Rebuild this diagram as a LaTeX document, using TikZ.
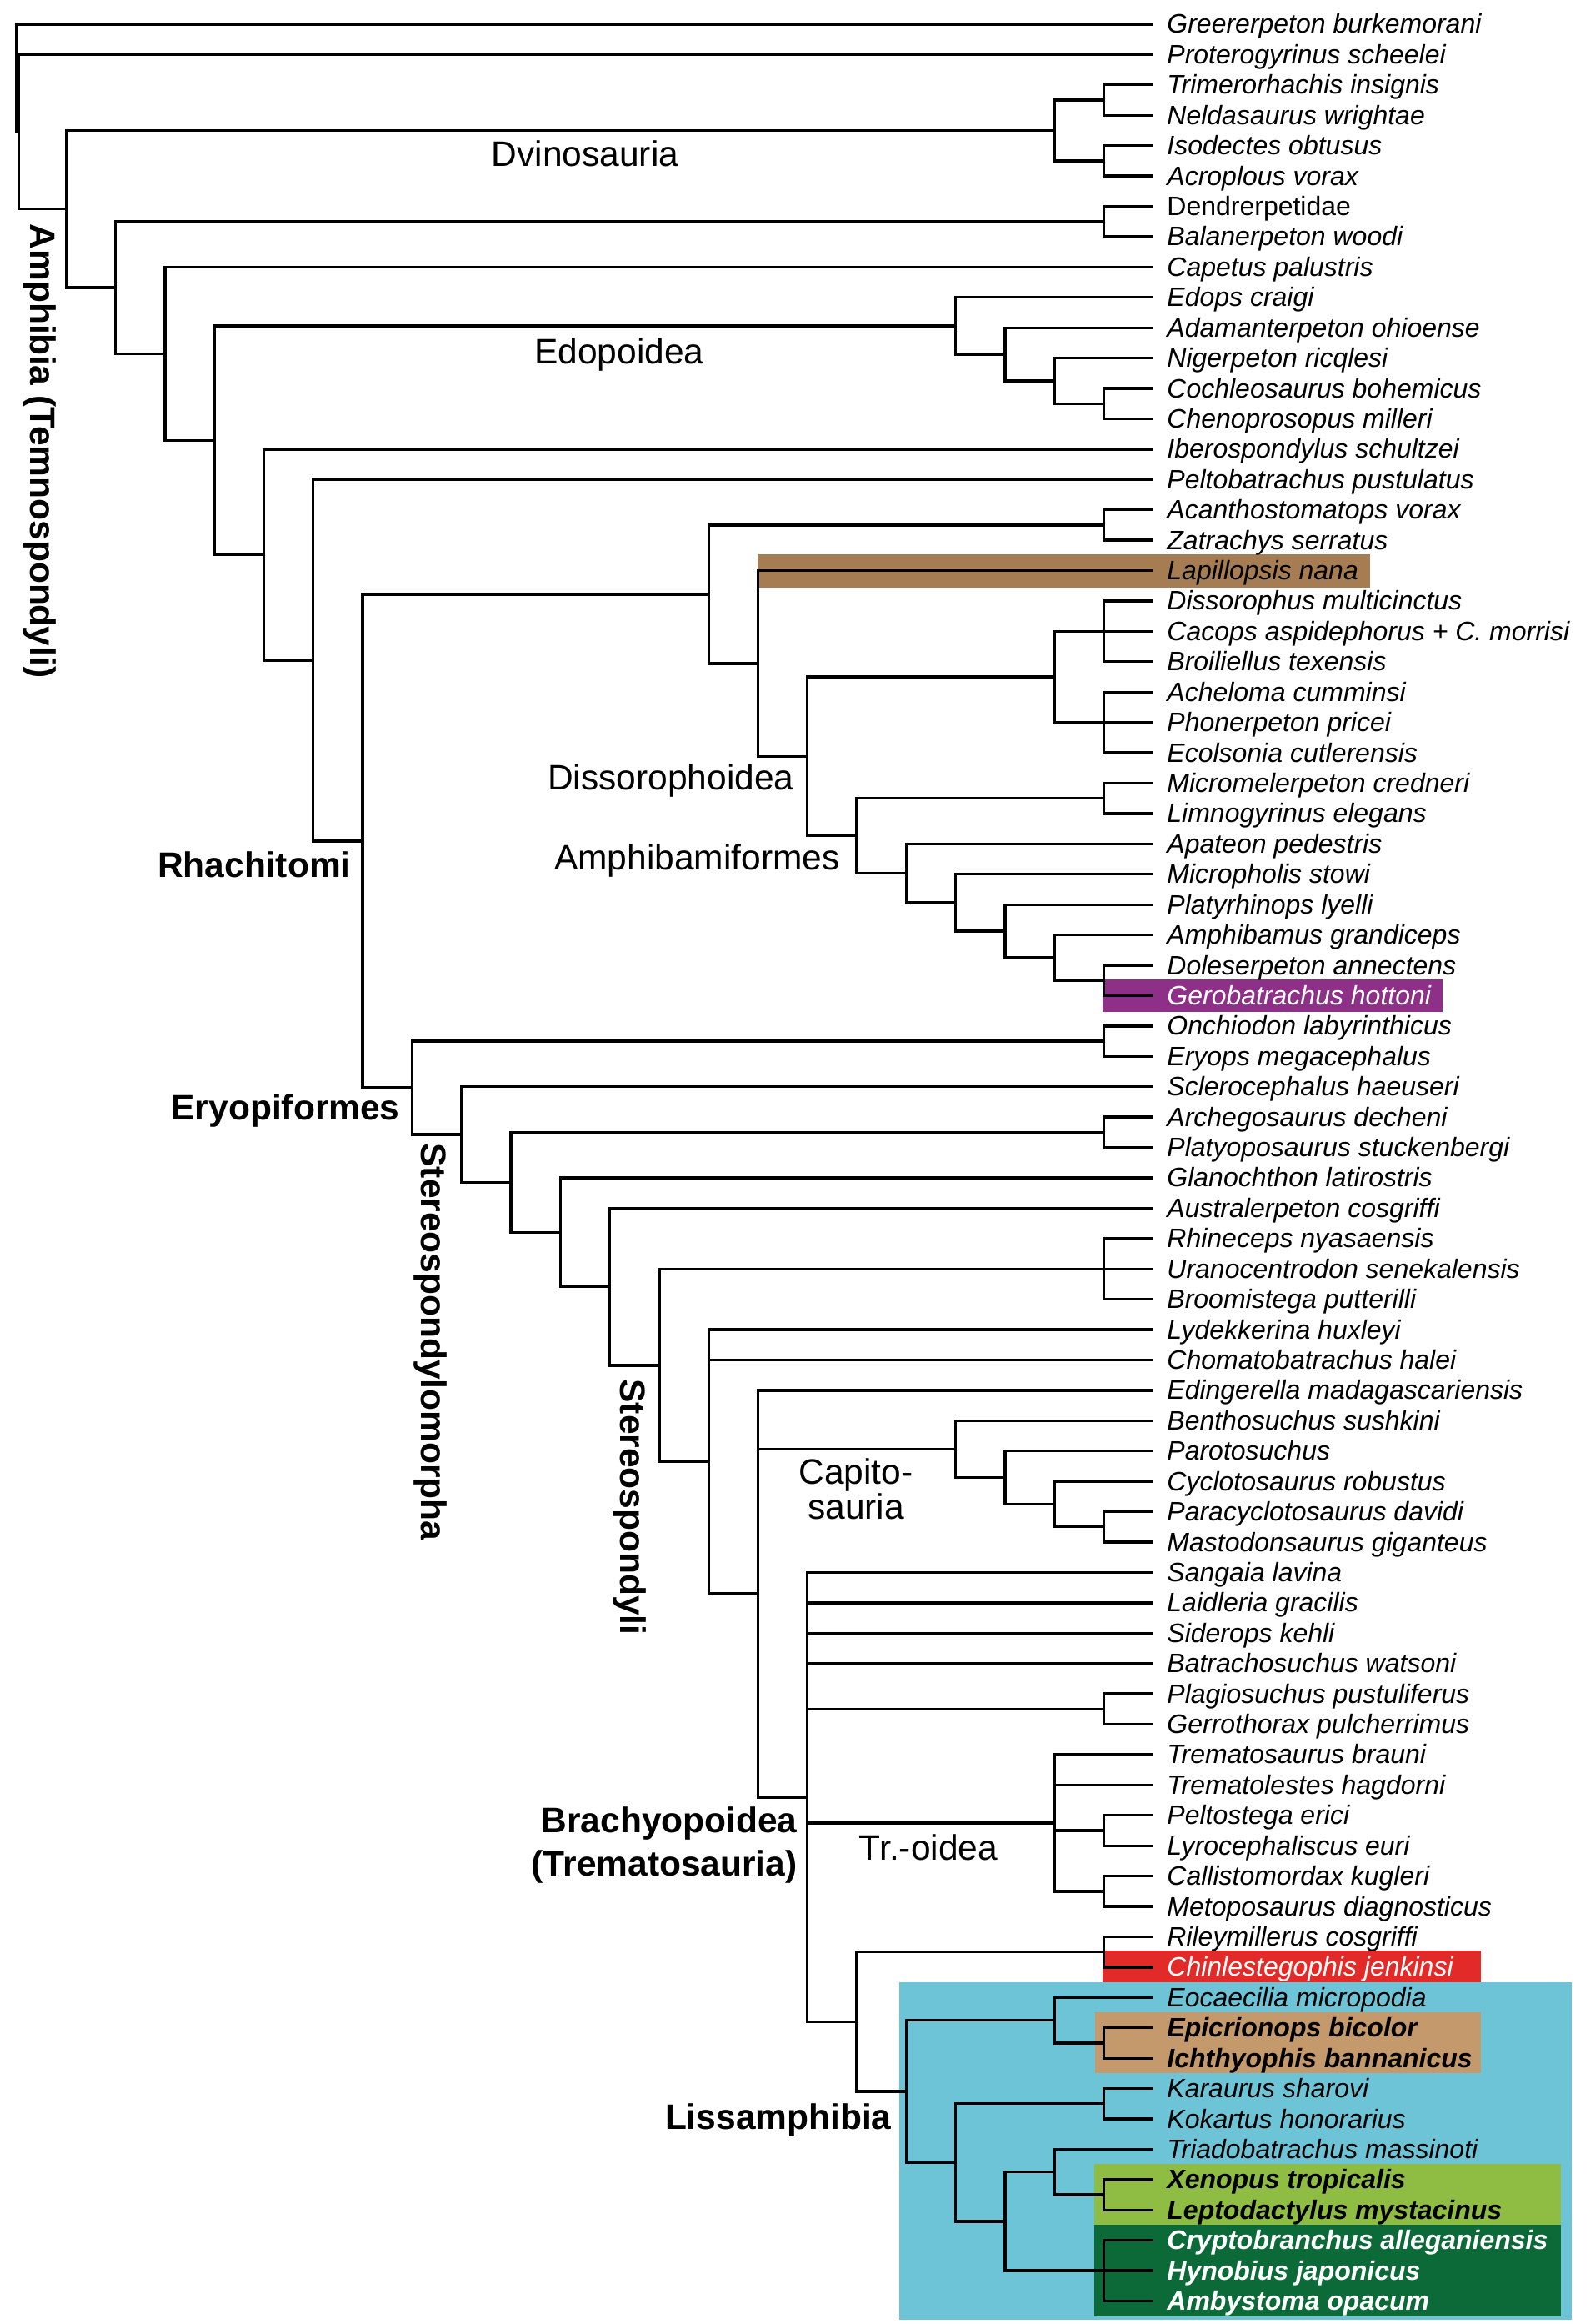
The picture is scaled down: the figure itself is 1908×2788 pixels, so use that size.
\documentclass[tikz,border=0pt]{standalone}
\usepackage{fontspec}
\setmainfont{Liberation Sans}
\usetikzlibrary{calc}
\definecolor{cLap}{RGB}{166,124,82}
\definecolor{cGer}{RGB}{142,48,136}
\definecolor{cChi}{RGB}{226,43,40}
\definecolor{cBlue}{RGB}{110,196,215}
\definecolor{cTan}{RGB}{196,153,108}
\definecolor{cLgr}{RGB}{143,189,68}
\definecolor{cDgr}{RGB}{12,106,56}
\newcommand\mkclade[4]{%
  \coordinate (#1m) at ($(#3)!0.5!(#4)$);
  \coordinate (#1) at (#1m -| #2);
  \draw[br] (#3) -| (#1) |- (#4);}
\newcommand\mkbranch[2]{\draw[br] (#1 |- #2) -- (#2);}
\begin{document}
\begin{tikzpicture}[x=0.5pt,y=-0.5pt,
  br/.style={line width=1.65pt,line join=miter},
  lf/.style={anchor=base west,inner sep=0pt,font=\fontsize{16}{19}\selectfont\itshape},
  lfr/.style={anchor=base west,inner sep=0pt,font=\fontsize{16}{19}\selectfont},
  lfw/.style={lf,text=white},
  lfb/.style={anchor=base west,inner sep=0pt,font=\fontsize{16}{19}\selectfont\bfseries\itshape},
  lfbw/.style={lfb,text=white},
  cl/.style={inner sep=0pt,font=\fontsize{21.25}{25}\selectfont},
  clb/.style={inner sep=0pt,font=\fontsize{21.25}{25}\selectfont\bfseries}]
\useasboundingbox (0,0) rectangle (1908,2788);
% highlight boxes
\fill[cLap] (909,665) rectangle (1644,705);
\fill[cGer] (1323,1175) rectangle (1731,1214);
\fill[cChi] (1323,2340) rectangle (1777,2378);
\fill[cBlue] (1079,2378) rectangle (1886,2783);
\fill[cTan] (1314,2414) rectangle (1777,2487);
\fill[cLgr] (1313,2596) rectangle (1873,2669);
\fill[cDgr] (1313,2669) rectangle (1873,2779);
% columns and tips
\foreach \k in {0,...,23} \coordinate (c\k) at ({20+59.3*\k},0);
\coordinate (cr1) at (20,0);
\coordinate (cr2) at (22.5,0);
\foreach \i in {1,...,76} \coordinate (t\i) at (1384,{29+36.42*(\i-1)});
% Dvinosauria
\mkclade{dA}{c22}{t3}{t4}
\mkclade{dB}{c22}{t5}{t6}
\mkclade{dvin}{c21}{dA}{dB}
\mkclade{dend}{c22}{t7}{t8}
% Edopoidea
\mkclade{eA}{c22}{t13}{t14}
\mkclade{eB}{c21}{t12}{eA}
\mkclade{eC}{c20}{t11}{eB}
\mkclade{edo}{c19}{t10}{eC}
% Dissorophoidea
\mkclade{zat}{c22}{t17}{t18}
\mkclade{disA}{c22}{t20}{t22}
\mkbranch{disA}{t21}
\mkclade{disB}{c22}{t23}{t25}
\mkbranch{disB}{t24}
\mkclade{dissid}{c21}{disA}{disB}
\mkclade{mic}{c22}{t26}{t27}
\mkclade{amE}{c22}{t32}{t33}
\mkclade{amD}{c21}{t31}{amE}
\mkclade{amC}{c20}{t30}{amD}
\mkclade{amB}{c19}{t29}{amC}
\mkclade{amph}{c18}{t28}{amB}
\mkclade{dsQ}{c17}{mic}{amph}
\mkclade{dsP}{c16}{dissid}{dsQ}
\mkclade{dsO}{c15}{t19}{dsP}
\mkclade{diss}{c14}{zat}{dsO}
% Eryopiformes
\mkclade{ery}{c22}{t34}{t35}
\mkclade{arch}{c22}{t37}{t38}
\mkclade{rhin}{c22}{t41}{t43}
\mkbranch{rhin}{t42}
\mkclade{capA}{c22}{t50}{t51}
\mkclade{capB}{c21}{t49}{capA}
\mkclade{capC}{c20}{t48}{capB}
\mkclade{capi}{c19}{t47}{capC}
\mkclade{plag}{c22}{t56}{t57}
\mkclade{trA}{c22}{t60}{t61}
\mkclade{trB}{c22}{t62}{t63}
\mkclade{tro}{c21}{t58}{trB}
\mkbranch{tro}{t59}
\mkbranch{tro}{trA}
\mkclade{chin}{c22}{t64}{t65}
\mkclade{gA}{c22}{t67}{t68}
\mkclade{gym}{c21}{t66}{gA}
\mkclade{kar}{c22}{t69}{t70}
\mkclade{xen}{c22}{t72}{t73}
\mkclade{anu}{c21}{t71}{xen}
\mkclade{uro}{c22}{t74}{t76}
\mkbranch{uro}{t75}
\mkclade{bat}{c20}{anu}{uro}
\mkclade{laS}{c19}{kar}{bat}
\mkclade{liss}{c18}{gym}{laS}
\mkclade{sQ}{c17}{chin}{liss}
\mkclade{brach}{c16}{t52}{sQ}
\mkbranch{brach}{t53}
\mkbranch{brach}{t54}
\mkbranch{brach}{t55}
\mkbranch{brach}{plag}
\mkbranch{brach}{tro}
\mkclade{sO}{c15}{t46}{brach}
\mkbranch{sO}{capi}
\mkclade{sN}{c14}{t44}{sO}
\mkbranch{sN}{t45}
\mkclade{sM}{c13}{rhin}{sN}
\mkclade{sL}{c12}{t40}{sM}
\mkclade{sK}{c11}{t39}{sL}
\mkclade{sJ}{c10}{arch}{sK}
\mkclade{sI}{c9}{t36}{sJ}
\mkclade{sH}{c8}{ery}{sI}
% Rhachitomi and base
\mkclade{rG}{c7}{diss}{sH}
\mkclade{rF}{c6}{t16}{rG}
\mkclade{rE}{c5}{t15}{rF}
\mkclade{rD}{c4}{edo}{rE}
\mkclade{rC}{c3}{t9}{rD}
\mkclade{rB}{c2}{dend}{rC}
\mkclade{temno}{c1}{dvin}{rB}
\mkclade{rootB}{cr2}{t2}{temno}
\mkclade{rootA}{cr1}{t1}{rootB}
% leaf labels
\foreach \i/\txt in {1/Greererpeton burkemorani,2/Proterogyrinus scheelei,3/Trimerorhachis insignis,4/Neldasaurus wrightae,5/Isodectes obtusus,6/Acroplous vorax,8/Balanerpeton woodi,9/Capetus palustris,10/Edops craigi,11/Adamanterpeton ohioense,12/Nigerpeton ricqlesi,13/Cochleosaurus bohemicus,14/Chenoprosopus milleri,15/Iberospondylus schultzei,16/Peltobatrachus pustulatus,17/Acanthostomatops vorax,18/Zatrachys serratus,19/Lapillopsis nana,20/Dissorophus multicinctus,21/Cacops aspidephorus + C. morrisi,22/Broiliellus texensis,23/Acheloma cumminsi,24/Phonerpeton pricei,25/Ecolsonia cutlerensis,26/Micromelerpeton credneri,27/Limnogyrinus elegans,28/Apateon pedestris,29/Micropholis stowi,30/Platyrhinops lyelli,31/Amphibamus grandiceps,32/Doleserpeton annectens,34/Onchiodon labyrinthicus,35/Eryops megacephalus,36/Sclerocephalus haeuseri,37/Archegosaurus decheni,38/Platyoposaurus stuckenbergi,39/Glanochthon latirostris,40/Australerpeton cosgriffi,41/Rhineceps nyasaensis,42/Uranocentrodon senekalensis,43/Broomistega putterilli,44/Lydekkerina huxleyi,45/Chomatobatrachus halei,46/Edingerella madagascariensis,47/Benthosuchus sushkini,48/Parotosuchus,49/Cyclotosaurus robustus,50/Paracyclotosaurus davidi,51/Mastodonsaurus giganteus,52/Sangaia lavina,53/Laidleria gracilis,54/Siderops kehli,55/Batrachosuchus watsoni,56/Plagiosuchus pustuliferus,57/Gerrothorax pulcherrimus,58/Trematosaurus brauni,59/Trematolestes hagdorni,60/Peltostega erici,61/Lyrocephaliscus euri,62/Callistomordax kugleri,63/Metoposaurus diagnosticus,64/Rileymillerus cosgriffi,66/Eocaecilia micropodia,69/Karaurus sharovi,70/Kokartus honorarius,71/Triadobatrachus massinoti}
  \node[lf] (L\i) at ($(t\i)+(16,11)$) {\txt};
\node[lfr] (L7) at ($(t7)+(16,11)$) {Dendrerpetidae};
\foreach \i/\txt in {33/Gerobatrachus hottoni,65/Chinlestegophis jenkinsi}
  \node[lfw] (L\i) at ($(t\i)+(16,11)$) {\txt};
\foreach \i/\txt in {67/Epicrionops bicolor,68/Ichthyophis bannanicus,72/Xenopus tropicalis,73/Leptodactylus mystacinus}
  \node[lfb] (L\i) at ($(t\i)+(16,11)$) {\txt};
\foreach \i/\txt in {74/Cryptobranchus alleganiensis,75/Hynobius japonicus,76/Ambystoma opacum}
  \node[lfbw] (L\i) at ($(t\i)+(16,11)$) {\txt};
% clade labels
\node[clb,rotate=-90] (lamph) at (47,541) {Amphibia (Temnospondyli)};
\node[cl,anchor=base] (ldvin) at (702,200) {Dvinosauria};
\node[cl,anchor=base] (ledo) at (743,436) {Edopoidea};
\node[clb,anchor=base east] (lrha) at (421,1052) {Rhachitomi};
\node[cl,anchor=base east] (ldiss) at (953,947) {Dissorophoidea};
\node[cl,anchor=base east] (lamphib) at (1008,1043) {Amphibamiformes};
\node[clb,anchor=base east] (lery) at (480,1343) {Eryopiformes};
\node[clb,rotate=-90] (lstm) at (516,1610) {Stereospondylomorpha};
\node[clb,rotate=-90] (lst) at (755,1808) {Stereospondyli};
\node[cl,anchor=base] (lcapA) at (1027,1780) {Capito-};
\node[cl,anchor=base] (lcapB) at (1027,1822) {sauria};
\node[clb,anchor=base east] (lbrA) at (957,2198) {Brachyopoidea};
\node[clb,anchor=base east] (lbrB) at (957,2250) {(Trematosauria)};
\node[cl,anchor=base] (ltro) at (1114,2231) {Tr.-oidea};
\node[clb,anchor=base east] (lliss) at (1070,2554) {Lissamphibia};
\end{tikzpicture}
\end{document}
